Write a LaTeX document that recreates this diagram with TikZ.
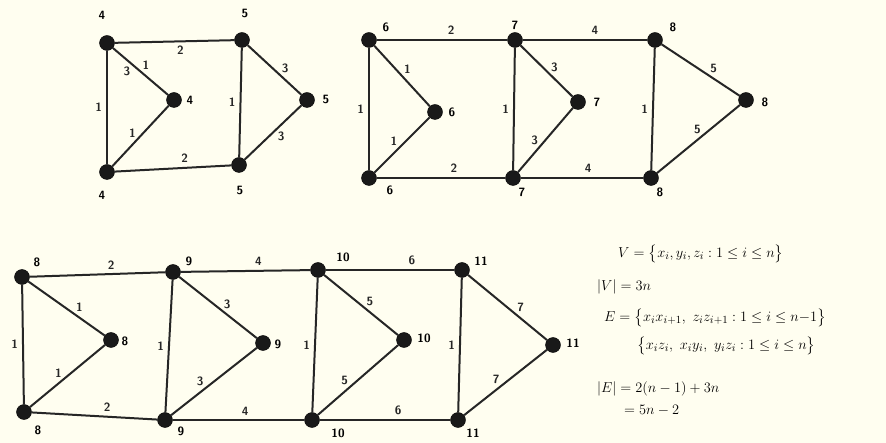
\documentclass[tikz,border=0pt]{standalone}
\usepackage{amsmath,amssymb}
\begin{document}
\begin{tikzpicture}[x=1pt,y=-1pt,
  vtx/.style={circle,fill=black!90,draw=black,inner sep=0pt,minimum size=15pt},
  edg/.style={line width=2pt,black!85},
  lbl/.style={font=\sffamily\bfseries\fontsize{12}{14}\selectfont,inner sep=1pt},
  math/.style={font=\fontsize{15}{17}\selectfont,anchor=west,inner sep=0pt}]
\fill[yellow!6] (0,0) rectangle (886,443);
\useasboundingbox (0,0) rectangle (886,443);
% ---------- graph 1 ----------
\node[vtx] (a1) at (107,43) {};
\node[vtx] (a2) at (174,100) {};
\node[vtx] (a3) at (107,172) {};
\node[vtx] (b1) at (242,40) {};
\node[vtx] (b2) at (307,100) {};
\node[vtx] (b3) at (239,165) {};
\draw[edg] (a1) -- node[lbl,pos=0.55,below=3pt] {2} (b1);
\draw[edg] (a1) -- node[lbl,pos=0.5,above right=0pt] {1} node[lbl,pos=0.35,below left=0pt] {3} (a2);
\draw[edg] (a1) -- node[lbl,left=3pt] {1} (a3);
\draw[edg] (a2) -- node[lbl,pos=0.55,above left=0pt] {1} (a3);
\draw[edg] (a3) -- node[lbl,pos=0.6,above=3pt] {2} (b3);
\draw[edg] (b1) -- node[lbl,left=3pt] {1} (b3);
\draw[edg] (b1) -- node[lbl,pos=0.6,above right=0pt] {3} (b2);
\draw[edg] (b3) -- node[lbl,pos=0.55,below right=0pt] {3} (b2);
\node[lbl] (la1) at (102,15) {4};
\node[lbl] (la2) at (190,100) {4};
\node[lbl] (la3) at (102,195) {4};
\node[lbl] (lb1) at (245,13) {5};
\node[lbl] (lb2) at (326,99) {5};
\node[lbl] (lb3) at (240,190) {5};
% ---------- graph 2 ----------
\node[vtx] (g1) at (369,40) {};
\node[vtx] (g2) at (435,112) {};
\node[vtx] (g3) at (369,178) {};
\node[vtx] (h1) at (515,40) {};
\node[vtx] (h2) at (578,102) {};
\node[vtx] (h3) at (513,178) {};
\node[vtx] (i1) at (655,40) {};
\node[vtx] (i2) at (746,100) {};
\node[vtx] (i3) at (651,178) {};
\draw[edg] (g1) -- node[lbl,pos=0.57,above=3pt] {2} (h1);
\draw[edg] (h1) -- node[lbl,pos=0.58,above=3pt] {4} (i1);
\draw[edg] (g1) -- node[lbl,pos=0.5,above right=0pt] {1} (g2);
\draw[edg] (g1) -- node[lbl,left=3pt] {1} (g3);
\draw[edg] (g2) -- node[lbl,pos=0.55,above left=0pt] {1} (g3);
\draw[edg] (g3) -- node[lbl,pos=0.6,above=3pt] {2} (h3);
\draw[edg] (h3) -- node[lbl,pos=0.55,above=3pt] {4} (i3);
\draw[edg] (h1) -- node[lbl,left=3pt] {1} (h3);
\draw[edg] (h1) -- node[lbl,pos=0.55,above right=0pt] {3} (h2);
\draw[edg] (h2) -- node[lbl,pos=0.6,above left=0pt] {3} (h3);
\draw[edg] (i1) -- node[lbl,left=3pt] {1} (i3);
\draw[edg] (i1) -- node[lbl,pos=0.6,above right=0pt] {5} (i2);
\draw[edg] (i3) -- node[lbl,pos=0.55,above left=0pt] {5} (i2);
\node[lbl] (lg1) at (386,27) {6};
\node[lbl] (lg2) at (452,112) {6};
\node[lbl] (lg3) at (390,190) {6};
\node[lbl] (lh1) at (515,25) {7};
\node[lbl] (lh2) at (597,102) {7};
\node[lbl] (lh3) at (522,192) {7};
\node[lbl] (li1) at (673,27) {8};
\node[lbl] (li2) at (765,102) {8};
\node[lbl] (li3) at (660,192) {8};
% ---------- graph 3 ----------
\node[vtx] (j1) at (22,277) {};
\node[vtx] (j2) at (111,340) {};
\node[vtx] (j3) at (24,412) {};
\node[vtx] (k1) at (173,272) {};
\node[vtx] (k2) at (263,343) {};
\node[vtx] (k3) at (165,420) {};
\node[vtx] (l1) at (318,270) {};
\node[vtx] (l2) at (404,340) {};
\node[vtx] (l3) at (312,420) {};
\node[vtx] (m1) at (462,270) {};
\node[vtx] (m2) at (553,345) {};
\node[vtx] (m3) at (458,420) {};
\draw[edg] (j1) -- node[lbl,pos=0.6,above=3pt] {2} (k1);
\draw[edg] (k1) -- node[lbl,pos=0.6,above=3pt] {4} (l1);
\draw[edg] (l1) -- node[lbl,pos=0.67,above=3pt] {6} (m1);
\draw[edg] (j1) -- node[lbl,pos=0.6,above right=0pt] {1} (j2);
\draw[edg] (j2) -- node[lbl,pos=0.55,above left=0pt] {1} (j3);
\draw[edg] (j1) -- node[lbl,left=3pt] {1} (j3);
\draw[edg] (j3) -- node[lbl,pos=0.6,above=3pt] {2} (k3);
\draw[edg] (k3) -- node[lbl,pos=0.55,above=3pt] {4} (l3);
\draw[edg] (l3) -- node[lbl,pos=0.6,above=3pt] {6} (m3);
\draw[edg] (k1) -- node[lbl,left=3pt] {1} (k3);
\draw[edg] (k1) -- node[lbl,pos=0.55,above right=0pt] {3} (k2);
\draw[edg] (k2) -- node[lbl,pos=0.6,above left=0pt] {3} (k3);
\draw[edg] (l1) -- node[lbl,left=3pt] {1} (l3);
\draw[edg] (l1) -- node[lbl,pos=0.55,above right=0pt] {5} (l2);
\draw[edg] (l2) -- node[lbl,pos=0.6,above left=0pt] {5} (l3);
\draw[edg] (m1) -- node[lbl,left=3pt] {1} (m3);
\draw[edg] (m1) -- node[lbl,pos=0.6,above right=0pt] {7} (m2);
\draw[edg] (m2) -- node[lbl,pos=0.55,above left=0pt] {7} (m3);
\node[lbl] (lj1) at (37,262) {8};
\node[lbl] (lj2) at (125,341) {8};
\node[lbl] (lj3) at (38,430) {8};
\node[lbl] (lk1) at (189,261) {9};
\node[lbl] (lk2) at (278,344) {9};
\node[lbl] (lk3) at (181,431) {9};
\node[lbl] (ll1) at (343,257) {10};
\node[lbl] (ll2) at (424,338) {10};
\node[lbl] (ll3) at (338,433) {10};
\node[lbl] (lm1) at (481,261) {11};
\node[lbl] (lm2) at (573,343) {11};
\node[lbl] (lm3) at (473,433) {11};
% ---------- text ----------
\node[math] (t1) at (618,254) {$V=\big\{x_i,y_i,z_i : 1\le i\le n\big\}$};
\node[math] (t2) at (597,287) {$|V|=3n$};
\node[math] (t3) at (604,318) {$E=\big\{x_ix_{i+1},\ z_iz_{i+1} : 1\le i\le n{-}1\big\}$};
\node[math] (t4) at (637,346) {$\big\{x_iz_i,\ x_iy_i,\ y_iz_i : 1\le i\le n\big\}$};
\node[math] (t5) at (597,389) {$|E|=2(n-1)+3n$};
\node[math] (t6) at (624,410) {$=5n-2$};
\end{tikzpicture}
\end{document}
